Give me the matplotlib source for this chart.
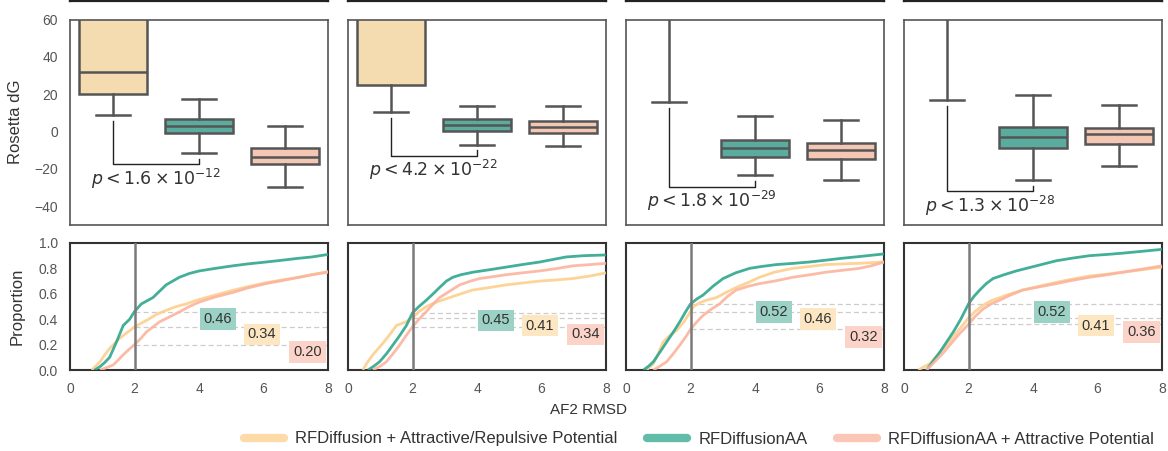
import numpy as np
import matplotlib
matplotlib.use("Agg")
import matplotlib.pyplot as plt
from matplotlib.lines import Line2D

plt.rcParams["font.family"] = ["Liberation Sans", "DejaVu Sans"]
plt.rcParams["mathtext.fontset"] = "dejavusans"

# ---------------- data ----------------
methods = [
    "RFDiffusion + Attractive/Repulsive Potential",
    "RFDiffusionAA",
    "RFDiffusionAA + Attractive Potential",
]

# Rosetta dG box statistics per panel: [whislo, q1, median, q3, whishi] for each method
dg_orange = [
    [9.0, 20.0, 32.0, 85.0, 180.0],
    [10.5, 25.0, 75.0, 140.0, 300.0],
    [16.0, 75.0, 130.0, 220.0, 420.0],
    [17.0, 75.0, 130.0, 220.0, 420.0],
]
dg_teal = [
    [-11.5, -0.5, 3.0, 7.0, 17.5],
    [-7.0, 0.5, 3.5, 6.5, 13.5],
    [-23.5, -13.5, -9.0, -4.5, 8.5],
    [-26.0, -9.0, -3.0, 2.5, 19.5],
]
dg_salmon = [
    [-29.5, -17.5, -13.5, -9.0, 3.0],
    [-7.5, -0.5, 2.5, 5.5, 13.5],
    [-26.0, -14.5, -10.0, -6.0, 6.0],
    [-18.5, -6.5, -1.5, 2.0, 14.5],
]
p_mantissa = [1.6, 4.2, 1.8, 1.3]
p_exponent = [-12, -22, -29, -28]

# fraction of designs with AF2 RMSD below 2 A
frac_orange = [0.34, 0.41, 0.46, 0.41]
frac_teal = [0.46, 0.45, 0.52, 0.52]
frac_salmon = [0.20, 0.34, 0.32, 0.36]

# cumulative distribution of AF2 RMSD (x: RMSD, y: proportion)
cdf_orange_x = [
    [0.67, 0.8, 0.93, 1.08, 1.23, 1.54, 1.8, 2.0, 2.37, 2.7, 2.98, 3.3, 3.6, 4.01, 4.5, 5.04, 5.5, 6.07, 6.6, 7.1, 7.5, 8.0],
    [0.46, 0.6, 0.77, 1.08, 1.3, 1.5, 1.8, 2.0, 2.2, 2.43, 2.8, 3.15, 3.5, 3.87, 4.4, 4.9, 5.4, 5.94, 6.5, 6.97, 7.5, 8.0],
    [0.64, 0.85, 1.0, 1.15, 1.35, 1.56, 1.8, 2.0, 2.1, 2.29, 2.5, 2.8, 3.1, 3.42, 3.8, 4.14, 4.6, 5.17, 5.7, 6.2, 6.7, 7.23, 7.6, 8.0],
    [0.44, 0.8, 1.05, 1.32, 1.65, 2.0, 2.2, 2.45, 2.7, 2.97, 3.3, 3.69, 4.2, 4.72, 5.2, 5.75, 6.3, 6.78, 7.4, 8.0],
]
cdf_orange_y = [
    [0.0, 0.03, 0.065, 0.12, 0.17, 0.25, 0.30, 0.34, 0.39, 0.44, 0.47, 0.50, 0.52, 0.556, 0.59, 0.627, 0.655, 0.687, 0.71, 0.73, 0.75, 0.775],
    [0.0, 0.06, 0.12, 0.21, 0.28, 0.35, 0.38, 0.41, 0.46, 0.50, 0.54, 0.57, 0.60, 0.63, 0.65, 0.67, 0.685, 0.70, 0.71, 0.72, 0.74, 0.765],
    [0.0, 0.05, 0.13, 0.22, 0.27, 0.31, 0.38, 0.46, 0.50, 0.53, 0.55, 0.57, 0.61, 0.65, 0.69, 0.73, 0.77, 0.80, 0.815, 0.83, 0.835, 0.84, 0.845, 0.85],
    [0.0, 0.05, 0.12, 0.196, 0.30, 0.41, 0.46, 0.51, 0.545, 0.57, 0.60, 0.63, 0.66, 0.69, 0.715, 0.74, 0.755, 0.77, 0.79, 0.81],
]
cdf_teal_x = [
    [0.77, 0.93, 1.08, 1.23, 1.44, 1.65, 1.85, 2.0, 2.21, 2.57, 2.98, 3.39, 3.7, 4.01, 4.5, 5.04, 5.5, 6.07, 6.6, 7.1, 7.5, 8.0],
    [0.62, 0.8, 0.98, 1.2, 1.39, 1.6, 1.81, 2.0, 2.2, 2.43, 2.64, 2.84, 3.05, 3.25, 3.5, 3.87, 4.4, 4.9, 5.4, 5.94, 6.35, 6.76, 7.3, 8.0],
    [0.54, 0.7, 0.85, 1.05, 1.26, 1.47, 1.67, 1.85, 2.0, 2.2, 2.39, 2.7, 3.01, 3.4, 3.83, 4.2, 4.66, 5.2, 5.68, 6.2, 6.71, 7.3, 8.0],
    [0.7, 0.9, 1.11, 1.32, 1.53, 1.76, 2.0, 2.17, 2.35, 2.55, 2.76, 3.1, 3.48, 4.1, 4.72, 5.2, 5.75, 6.3, 6.78, 7.4, 8.0],
]
cdf_teal_y = [
    [0.0, 0.026, 0.06, 0.10, 0.22, 0.35, 0.40, 0.46, 0.52, 0.57, 0.67, 0.73, 0.76, 0.78, 0.80, 0.82, 0.835, 0.85, 0.865, 0.88, 0.89, 0.91],
    [0.0, 0.03, 0.065, 0.13, 0.196, 0.27, 0.35, 0.45, 0.50, 0.55, 0.60, 0.65, 0.70, 0.73, 0.75, 0.77, 0.79, 0.81, 0.83, 0.85, 0.87, 0.89, 0.90, 0.906],
    [0.0, 0.03, 0.065, 0.14, 0.22, 0.30, 0.38, 0.46, 0.52, 0.56, 0.59, 0.66, 0.72, 0.765, 0.80, 0.815, 0.83, 0.84, 0.85, 0.865, 0.88, 0.895, 0.914],
    [0.0, 0.07, 0.14, 0.22, 0.30, 0.40, 0.52, 0.58, 0.63, 0.68, 0.72, 0.75, 0.78, 0.82, 0.86, 0.88, 0.90, 0.91, 0.92, 0.935, 0.95],
]
cdf_salmon_x = [
    [0.93, 1.15, 1.34, 1.5, 1.65, 1.82, 2.0, 2.2, 2.37, 2.78, 3.1, 3.39, 3.7, 4.01, 4.5, 5.04, 5.5, 6.07, 6.6, 7.1, 7.5, 8.0],
    [0.77, 1.0, 1.19, 1.4, 1.6, 1.8, 2.0, 2.2, 2.43, 2.64, 2.84, 3.15, 3.46, 3.8, 4.08, 4.5, 4.9, 5.4, 5.94, 6.5, 6.97, 7.5, 8.0],
    [0.85, 1.05, 1.26, 1.47, 1.67, 1.85, 2.0, 2.2, 2.39, 2.65, 2.9, 3.15, 3.42, 3.8, 4.14, 4.6, 5.17, 5.7, 6.2, 6.7, 7.23, 7.6, 8.0],
    [0.7, 1.01, 1.2, 1.42, 1.7, 2.0, 2.2, 2.45, 2.7, 2.97, 3.3, 3.69, 4.2, 4.72, 5.2, 5.75, 6.3, 6.78, 7.4, 8.0],
]
cdf_salmon_y = [
    [0.0, 0.02, 0.04, 0.08, 0.12, 0.16, 0.20, 0.25, 0.30, 0.38, 0.42, 0.457, 0.50, 0.535, 0.575, 0.61, 0.645, 0.68, 0.705, 0.73, 0.75, 0.77],
    [0.0, 0.03, 0.065, 0.13, 0.196, 0.27, 0.34, 0.40, 0.46, 0.52, 0.57, 0.62, 0.67, 0.70, 0.72, 0.735, 0.75, 0.765, 0.78, 0.80, 0.82, 0.83, 0.84],
    [0.0, 0.03, 0.065, 0.13, 0.196, 0.26, 0.32, 0.38, 0.43, 0.48, 0.52, 0.58, 0.63, 0.66, 0.68, 0.70, 0.73, 0.75, 0.77, 0.785, 0.80, 0.82, 0.85],
    [0.0, 0.08, 0.13, 0.196, 0.28, 0.36, 0.42, 0.48, 0.52, 0.55, 0.59, 0.63, 0.655, 0.68, 0.705, 0.73, 0.75, 0.77, 0.795, 0.82],
]

rmsd_cutoff = 2.0

# ---------------- style ----------------
box_fill = ["#F4DCB0", "#5AAC9F", "#F4C6B4"]
line_col = ["#FDCF8C", "#2EA68E", "#FBB49E"]
tag_col = ["#FDE6C2", "#9CD1C6", "#FCD3C8"]
edge_gray = "#555555"
text_dark = "#333333"
tick_gray = "#555555"

W, H = 1168, 451
fig = plt.figure(figsize=(W / 100, H / 100), dpi=100)


def px_axes(x0, y0, x1, y1):
    return fig.add_axes([x0 / W, 1 - y1 / H, (x1 - x0) / W, (y1 - y0) / H])


col_left = [70, 348, 626, 904]
col_w = 258

# frames of the row above, cut off by the top edge
for xl in col_left:
    ghost = fig.add_axes([xl / W, 1 - 1.0 / H, col_w / W, 0.3])
    ghost.set_xticks([])
    ghost.set_yticks([])
    for s in ghost.spines.values():
        s.set_color("#222222")
        s.set_linewidth(1.6)

box_sets = [dg_orange, dg_teal, dg_salmon]
cdf_sets = [
    (cdf_orange_x, cdf_orange_y),
    (cdf_teal_x, cdf_teal_y),
    (cdf_salmon_x, cdf_salmon_y),
]
frac_sets = [frac_orange, frac_teal, frac_salmon]
tag_x = [5.95, 4.58, 7.36]

for c, xl in enumerate(col_left):
    # ---- Rosetta dG boxplots ----
    ax = px_axes(xl, 19.5, xl + col_w, 225)
    stats = []
    for m in range(3):
        lo, q1, med, q3, hi = box_sets[m][c]
        stats.append(dict(whislo=lo, q1=q1, med=med, q3=q3, whishi=hi, fliers=[]))
    bp = ax.bxp(
        stats, positions=[0, 1, 2], widths=0.8, patch_artist=True,
        showfliers=False, capwidths=0.4,
        boxprops=dict(edgecolor=edge_gray, linewidth=1.8),
        whiskerprops=dict(color=edge_gray, linewidth=1.8),
        capprops=dict(color=edge_gray, linewidth=1.8),
        medianprops=dict(color=edge_gray, linewidth=1.8),
    )
    for patch, fc in zip(bp["boxes"], box_fill):
        patch.set_facecolor(fc)
    ax.set_xlim(-0.5, 2.5)
    ax.set_ylim(-50, 60)
    ax.set_xticks([])
    ax.set_yticks([60, 40, 20, 0, -20, -40])
    ax.tick_params(axis="y", length=0, pad=8.5, labelsize=10, labelcolor=tick_gray)
    if c == 0:
        ax.set_ylabel("Rosetta dG", fontsize=12, color=text_dark)
        ax.yaxis.set_label_coords(-0.182, 0.5)
    else:
        ax.set_yticklabels([])
    for s in ax.spines.values():
        s.set_color(edge_gray)
        s.set_linewidth(1.2)

    # significance bracket between the first two methods
    left_top = dg_orange[c][0] - 3.2
    bottom = dg_teal[c][0] - 5.9
    right_top = dg_teal[c][0] - 3.0
    ax.plot([0, 0, 1, 1], [left_top, bottom, bottom, right_top],
            color="#222222", linewidth=1.0)
    ax.text(0.5, bottom - 7.7,
            r"$p < %.1f \times 10^{%d}$" % (p_mantissa[c], p_exponent[c]),
            ha="center", va="center", fontsize=12.5, color=text_dark)

    # ---- AF2 RMSD cumulative curves ----
    bx = px_axes(xl, 243, xl + col_w, 370)
    for m in range(3):
        xs, ys = cdf_sets[m]
        bx.plot(xs[c], ys[c], color=line_col[m], linewidth=2.0, alpha=0.9,
                solid_capstyle="butt", zorder=3)
    bx.axvline(rmsd_cutoff, color="#7a7a7a", linewidth=1.8, zorder=4)
    for m in range(3):
        v = frac_sets[m][c]
        bx.plot([rmsd_cutoff, 8], [v, v], color="#cccccc", linewidth=0.9,
                linestyle=(0, (4, 2.5)), zorder=1)
    for m in [1, 0, 2]:
        v = frac_sets[m][c]
        bx.text(tag_x[m], v - 0.06, "%.2f" % v, ha="center", va="center",
                fontsize=10.5, color=text_dark, zorder=5,
                bbox=dict(boxstyle="square,pad=0.27", facecolor=tag_col[m],
                          edgecolor="none"))
    bx.set_xlim(0, 8)
    bx.set_ylim(0, 1)
    bx.set_xticks([0, 2, 4, 6, 8])
    bx.set_yticks([0.0, 0.2, 0.4, 0.6, 0.8, 1.0])
    bx.tick_params(length=0, pad=8.5, labelsize=10, labelcolor=tick_gray)
    if c == 0:
        bx.set_ylabel("Proportion", fontsize=12, color=text_dark)
        bx.yaxis.set_label_coords(-0.174, 0.5)
    else:
        bx.set_yticklabels([])
    for s in bx.spines.values():
        s.set_color("#333333")
        s.set_linewidth(1.5)

fig.text(589 / W, 1 - 410 / H, "AF2 RMSD", ha="center", va="center",
         fontsize=11, color=text_dark)

handles = [Line2D([0], [0], color=col, linewidth=6, alpha=0.75,
                  solid_capstyle="round") for col in line_col]
fig.legend(handles, methods, loc="center", bbox_to_anchor=(699 / W, 1 - 439 / H),
           ncol=3, frameon=False, fontsize=12, handlelength=2.4,
           handletextpad=0.66, columnspacing=1.8, labelcolor=text_dark)

fig.savefig("out.png", dpi=100)
